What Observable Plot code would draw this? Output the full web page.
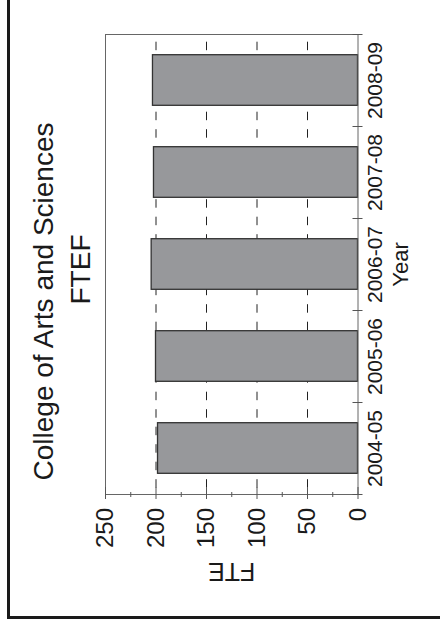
<!DOCTYPE html>
<html>
<head>
<meta charset="utf-8">
<script src="https://cdn.jsdelivr.net/npm/d3@7"></script>
<script src="https://cdn.jsdelivr.net/npm/@observablehq/plot@0.6"></script>
<style>
  html, body { margin: 0; padding: 0; background: #fff; }
  #wrap { position: relative; width: 440px; height: 626px; overflow: hidden; background: #fff; }
  #border { position: absolute; left: 7px; top: -10px; width: 460px; height: 629px;
            border-left: 3px solid #1a1a1a; border-bottom: 3px solid #1a1a1a; box-sizing: border-box; }
  #chart { position: absolute; left: 0; top: 0; }
</style>
</head>
<body>
<div id="wrap"><div id="border"></div><div id="chart"></div></div>
<script>
// Data
const years = ["2004-05", "2005-06", "2006-07", "2007-08", "2008-09"];
const fte = [198, 200, 204.3, 202, 203];
const fteTicks = [0, 50, 100, 150, 200, 250];
const fteMinorTicks = [25, 75, 125, 175, 225];
const gridValues = [50, 100, 150, 200];
const yearBoundaries = [0, 1, 2, 3, 4, 5];
const titleLine1 = "College of Arts and Sciences";
const titleLine2 = "FTEF";
const xLabel = "Year";
const yLabel = "FTE";

const rows = years.map((year, i) => ({year, fte: fte[i], i}));
const ink = "#1a1a1a";
const axisColor = "#555";

const chart = Plot.plot({
  width: 440,
  height: 626,
  marginLeft: 105,
  marginRight: 82.5,
  marginTop: 34,
  marginBottom: 132,
  x: {domain: [250, 0], axis: null},
  y: {domain: [0, years.length], axis: null},
  style: {fontFamily: "'Liberation Sans', Arial, Helvetica, sans-serif", color: ink, background: "transparent", overflow: "visible"},
  marks: [
    // dashed gridlines
    Plot.ruleX(gridValues, {stroke: "#222", strokeWidth: 1, strokeDasharray: "8.5,9", strokeDashoffset: 9.8}),
    // bars
    Plot.rectX(rows, {x1: 0, x2: "fte", y1: d => d.i + 0.225, y2: d => d.i + 0.775,
                      fill: "#97989b", stroke: "#333", strokeWidth: 1.3}),
    // plot frame
    Plot.frame({stroke: "#666", strokeWidth: 1}),
    // year boundary ticks (crossing right axis)
    Plot.ruleY(yearBoundaries, {x1: 0, x2: 0, insetLeft: -5, insetRight: -5, stroke: axisColor, strokeWidth: 1}),
    // FTE ticks (crossing bottom axis)
    Plot.ruleX(fteTicks, {y1: 0, y2: 0, insetTop: -7, insetBottom: -5, stroke: axisColor, strokeWidth: 1}),
    Plot.ruleX(fteMinorTicks, {y1: 0, y2: 0, insetTop: -2, insetBottom: -3, stroke: axisColor, strokeWidth: 1}),
    // FTE tick labels
    Plot.text(fteTicks, {x: d => d, y: 0, text: d => String(d), rotate: -90, textAnchor: "end",
                         dy: 13.5, fontSize: 24, fill: ink}),
    // Year tick labels
    Plot.text(rows, {x: 0, y: d => d.i + 0.5, text: "year", rotate: -90, lineAnchor: "top",
                     textAnchor: "middle", dx: 9, fontSize: 21, fill: ink}),
    // axis labels
    Plot.text([xLabel], {frameAnchor: "right", rotate: -90, lineAnchor: "top", textAnchor: "middle",
                         dx: 34, fontSize: 22, fill: ink}),
    Plot.text([yLabel], {frameAnchor: "bottom", rotate: 180, lineAnchor: "top", textAnchor: "middle",
                         dy: 86, fontSize: 25, fill: ink}),
    // title
    Plot.text([titleLine1], {frameAnchor: "left", rotate: -90, lineAnchor: "top", textAnchor: "middle",
                             dx: -72, dy: 37, fontSize: 28, fill: ink}),
    Plot.text([titleLine2], {frameAnchor: "left", rotate: -90, lineAnchor: "top", textAnchor: "middle",
                             dx: -35, dy: 5, fontSize: 28, fill: ink})
  ]
});
document.getElementById("chart").appendChild(chart);
</script>
</body>
</html>
